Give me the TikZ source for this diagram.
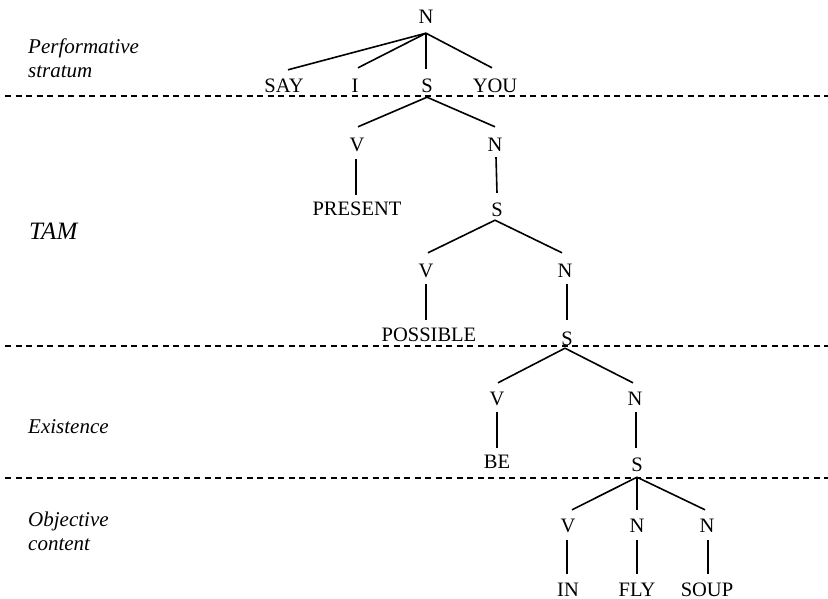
\documentclass[tikz,border=0pt]{standalone}
\usepackage{fontspec}
\setmainfont{Liberation Serif}
\begin{document}
\begin{tikzpicture}[x=1pt,y=-1pt,
  cat/.style={inner sep=0pt,text height=14pt,text depth=0pt,
    font=\fontsize{20.5}{24}\selectfont},
  edge/.style={line width=1.6pt,black},
  divider/.style={line width=1.4pt,dash pattern=on 6pt off 4.5pt},
  stratum/.style={anchor=base west,inner sep=0pt,align=left,
    font=\fontsize{21}{24}\selectfont\itshape}]
\useasboundingbox (0,0) rectangle (828,599);

% stratum boundaries
\draw[divider] (5,96) -- (828,96);
\draw[divider] (5,346) -- (828,346);
\draw[divider] (5,478) -- (828,478);

% stratum names (base anchor sits on the last line)
\node[stratum] (lperf) at (28,78) {Performative\\stratum};
\node[stratum,font=\fontsize{25}{28}\selectfont\itshape] (ltam) at (29,240) {TAM};
\node[stratum] (lexist) at (28,433) {Existence};
\node[stratum] (lobj) at (28,550) {Objective\\content};

% tree nodes
\node[cat] (n0) at (426,17) {N};
\node[cat] (say) at (284,86) {SAY};
\node[cat] (i) at (355,86) {I};
\node[cat] (s1) at (427,86) {S};
\node[cat] (you) at (495,86) {YOU};
\node[cat] (v1) at (357,145) {V};
\node[cat] (n1) at (495,145) {N};
\node[cat] (present) at (357,208) {PRESENT};
\node[cat] (s2) at (497,209) {S};
\node[cat] (v2) at (426,270) {V};
\node[cat] (n2) at (565,270) {N};
\node[cat] (possible) at (429,334) {POSSIBLE};
\node[cat] (s3) at (567,338) {S};
\node[cat] (v3) at (497,398) {V};
\node[cat] (n3) at (635,398) {N};
\node[cat] (be) at (497,461) {BE};
\node[cat] (s4) at (637,464) {S};
\node[cat] (v4) at (568,525) {V};
\node[cat] (n4) at (637,525) {N};
\node[cat] (n5) at (707,525) {N};
\node[cat] (in) at (568,589) {IN};
\node[cat] (fly) at (637,589) {FLY};
\node[cat] (soup) at (707,589) {SOUP};

% branches
\draw[edge] ([yshift=-9pt]n0.south) -- ([xshift=4pt,yshift=9pt]say.north);
\draw[edge] ([yshift=-9pt]n0.south) -- ([xshift=3pt,yshift=11pt]i.north);
\draw[edge] ([yshift=-9pt]n0.south) -- ([xshift=-1pt,yshift=10pt]s1.north);
\draw[edge] ([yshift=-9pt]n0.south) -- ([xshift=-3pt,yshift=11pt]you.north);

\draw[edge] ([yshift=-4pt]s1.south) -- ([xshift=1pt,yshift=11pt]v1.north);
\draw[edge] ([yshift=-4pt]s1.south) -- ([yshift=11pt]n1.north);
\draw[edge] ([xshift=-1pt,yshift=-7pt]v1.south) -- ([xshift=-1pt,yshift=6pt]present.north);
\draw[edge] ([xshift=1pt,yshift=-5pt]n1.south) -- ([yshift=9pt]s2.north);

\draw[edge] ([xshift=-2pt,yshift=-4pt]s2.south) -- ([xshift=2pt,yshift=10pt]v2.north);
\draw[edge] ([xshift=-2pt,yshift=-4pt]s2.south) -- ([xshift=-3pt,yshift=10pt]n2.north);
\draw[edge] ([yshift=-7pt]v2.south) -- ([xshift=-3pt,yshift=7pt]possible.north);
\draw[edge] ([xshift=2pt,yshift=-7pt]n2.south) -- ([yshift=11pt]s3.north);

\draw[edge] ([xshift=-2pt,yshift=-3pt]s3.south) -- ([xshift=1pt,yshift=8pt]v3.north);
\draw[edge] ([xshift=-2pt,yshift=-3pt]s3.south) -- ([xshift=-2pt,yshift=8pt]n3.north);
\draw[edge] ([yshift=-7pt]v3.south) -- ([yshift=6pt]be.north);
\draw[edge] ([xshift=1pt,yshift=-7pt]n3.south) -- ([xshift=-1pt,yshift=9pt]s4.north);

\draw[edge] ([yshift=-6pt]s4.south) -- ([xshift=4pt,yshift=8pt]v4.north);
\draw[edge] ([yshift=-6pt]s4.south) -- ([yshift=8pt]n4.north);
\draw[edge] ([yshift=-6pt]s4.south) -- ([xshift=-2pt,yshift=8pt]n5.north);
\draw[edge] ([xshift=-1pt,yshift=-8pt]v4.south) -- ([xshift=-1pt,yshift=8pt]in.north);
\draw[edge] ([yshift=-8pt]n4.south) -- ([yshift=8pt]fly.north);
\draw[edge] ([xshift=1pt,yshift=-8pt]n5.south) -- ([xshift=1pt,yshift=8pt]soup.north);
\end{tikzpicture}
\end{document}
